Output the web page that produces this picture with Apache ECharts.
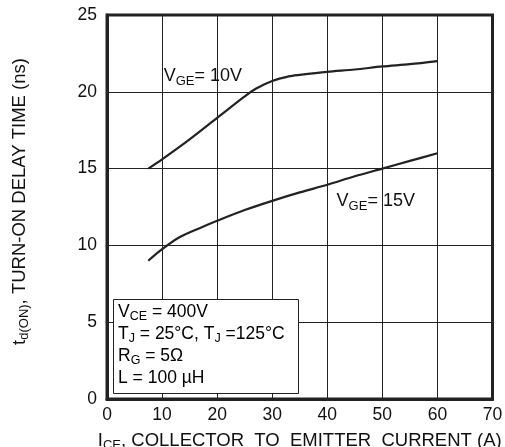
<!DOCTYPE html>
<html>
<head>
<meta charset="utf-8">
<script src="https://cdn.jsdelivr.net/npm/echarts@6/dist/echarts.min.js"></script>
<style>html,body{margin:0;padding:0;background:#fff}#c{width:505px;height:447px}</style>
</head>
<body>
<div id="c"></div>
<script>
var xTicks = [0, 10, 20, 30, 40, 50, 60, 70];
var yTicks = [0, 5, 10, 15, 20, 25];
var ice = [7.5, 10, 15, 20, 25, 27, 30, 33, 35, 40, 45, 50, 55, 60];
var td10 = [15.0, 15.6, 16.9, 18.3, 19.7, 20.2, 20.7, 21.0, 21.1, 21.3, 21.45, 21.65, 21.8, 22.0];
var ice15 = [7.5, 10, 13, 17, 20, 25, 30, 35, 40, 45, 50, 55, 60];
var td15 = [9.0, 9.75, 10.5, 11.15, 11.6, 12.3, 12.9, 13.45, 13.95, 14.5, 15.0, 15.5, 16.0];
var label10 = {x: 10.2, y: 21.03, text: ['V', 'GE', '= 10V']};
var label15 = {x: 41.6, y: 12.89, text: ['V', 'GE', '= 15V']};
var condLines = [['V', 'CE', ' = 400V'], ['T', 'J', ' = 25°C, T', 'J', ' =125°C'], ['R', 'G', ' = 5Ω'], ['L = 100 µH']];

function pairs(xs, ys) { return xs.map(function (x, i) { return [x, ys[i]]; }); }
function subText(parts) {
  return parts.map(function (p, i) { return i % 2 === 1 ? '{s|' + p + '}' : '{m|' + p + '}'; }).join('');
}
var FONT = 'Liberation Sans, Arial, Helvetica, sans-serif';
var rich = {
  m: {fontSize: 18.5, fontFamily: FONT, color: '#111'},
  s: {fontSize: 13, fontFamily: FONT, color: '#111', padding: [10, 0, 0, 0]}
};
var richL = {
  m: {fontSize: 18, fontFamily: FONT, color: '#111'},
  s: {fontSize: 13, fontFamily: FONT, color: '#111', padding: [10, 0, 0, 0]}
};
var richA = {
  m: {fontSize: 17.5, fontFamily: FONT, color: '#111', lineHeight: 21.8},
  s: {fontSize: 12.5, fontFamily: FONT, color: '#111', padding: [8, 0, 0, 0], lineHeight: 21.8}
};

function labelPoint(l) {
  return {
    symbol: 'circle', symbolSize: 1, itemStyle: {color: 'rgba(0,0,0,0)'},
    label: {show: true, position: 'right', distance: 0, formatter: subText(l.text), rich: richL},
    data: [{coord: [l.x, l.y], value: 0}]
  };
}

var chart = echarts.init(document.getElementById('c'));
chart.setOption({
  animation: false,
  backgroundColor: '#fff',
  grid: {left: 107, right: 12.5, top: 15, bottom: 48, show: true, borderColor: '#222', borderWidth: 3, outerBoundsMode: 'none', containLabel: false},
  xAxis: {
    type: 'value', min: xTicks[0], max: xTicks[xTicks.length - 1], interval: 10,
    axisLine: {lineStyle: {color: '#222', width: 3}},
    axisTick: {show: false},
    splitLine: {lineStyle: {color: '#222', width: 1}},
    axisLabel: {fontSize: 17.5, fontFamily: FONT, color: '#111', margin: 7},
    name: subText(['I', 'CE', ', COLLECTOR  TO  EMITTER  CURRENT (A)']),
    nameLocation: 'middle', nameGap: 30,
    nameTextStyle: {rich: rich}
  },
  yAxis: {
    type: 'value', min: yTicks[0], max: yTicks[yTicks.length - 1], interval: 5,
    axisLine: {lineStyle: {color: '#222', width: 3}},
    axisTick: {show: false},
    splitLine: {lineStyle: {color: '#222', width: 1}},
    axisLabel: {fontSize: 17.5, fontFamily: FONT, color: '#111', margin: 10},
    name: subText(['t', 'd(ON)', ', TURN-ON DELAY TIME (ns)']),
    nameLocation: 'middle', nameGap: 76,
    nameTextStyle: {rich: rich, padding: [0, 0, 0, 11]}
  },
  series: [
    {
      type: 'line', data: pairs(ice, td10), smooth: 0.3, showSymbol: false,
      lineStyle: {color: '#222', width: 2.2},
      markPoint: labelPoint(label10)
    },
    {
      type: 'line', data: pairs(ice15, td15), smooth: 0.3, showSymbol: false,
      lineStyle: {color: '#222', width: 2.2},
      markPoint: labelPoint(label15)
    }
  ],
  graphic: [
    {
      type: 'rect', left: 113, top: 299, z: 100,
      shape: {width: 185, height: 94},
      style: {fill: '#fff', stroke: '#222', lineWidth: 1}
    },
    {
      type: 'text', left: 118, top: 302, z: 101,
      style: {
        text: condLines.map(subText).join('\n'),
        rich: richA
      }
    }
  ]
});
</script>
</body>
</html>
